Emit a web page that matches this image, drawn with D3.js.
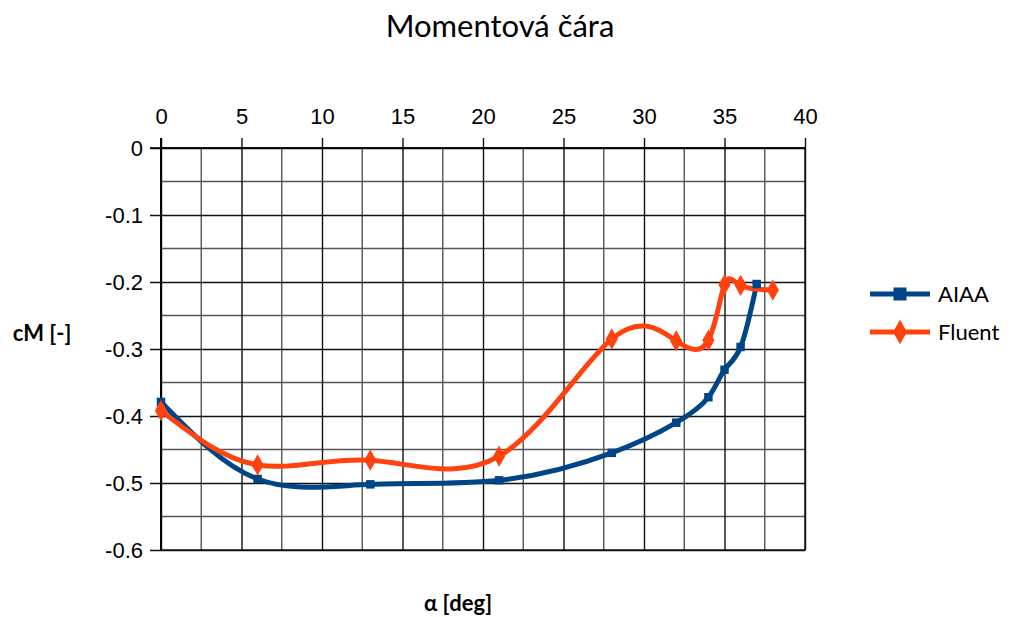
<!DOCTYPE html>
<html>
<head>
<meta charset="utf-8">
<script src="https://cdn.jsdelivr.net/npm/d3@7"></script>
<style>
  body { margin: 0; background: #fff; }
  .tick text { font-family: "Liberation Sans", Arial, sans-serif; font-size: 22px; fill: #000; }
  .title { font-family: Lato, "Open Sans", sans-serif; font-size: 31px; }
  .axis-label { font-family: Lato, "Open Sans", sans-serif; font-size: 22px; font-weight: bold; }
  .legend text { font-family: Lato, "Open Sans", sans-serif; font-size: 22px; }
</style>
</head>
<body>
<svg width="1010" height="617"></svg>
<script>
const svg = d3.select('svg');

const aiaaAlpha = [0, 6, 13, 21, 28, 32, 34, 35, 36, 37];
const aiaaCm = [-0.379, -0.494, -0.502, -0.496, -0.455, -0.410, -0.372, -0.331, -0.297, -0.203];

const fluentAlpha = [0, 6, 13, 21, 28, 32, 34, 35, 36, 38];
const fluentCm = [-0.392, -0.473, -0.466, -0.460, -0.285, -0.288, -0.287, -0.204, -0.205, -0.212];

const xTicks = [0, 5, 10, 15, 20, 25, 30, 35, 40];
const yTicks = [0, -0.1, -0.2, -0.3, -0.4, -0.5, -0.6];

const seriesNames = ['AIAA', 'Fluent'];
const colors = ['#004586', '#ff420e'];

const margin = {left: 161, top: 148, right: 205, bottom: 67};
const width = 1010, height = 617;
const innerWidth = width - margin.left - margin.right;
const innerHeight = height - margin.top - margin.bottom;

const xScale = d3.scaleLinear().domain([0, 40]).range([0, innerWidth]);
const yScale = d3.scaleLinear().domain([0, -0.6]).range([0, innerHeight]);

const g = svg.append('g').attr('transform', `translate(${margin.left}, ${margin.top})`);

// minor grid
g.append('g').selectAll('line')
  .data(d3.range(2.5, 40, 5))
  .join('line')
  .attr('x1', d => xScale(d)).attr('x2', d => xScale(d))
  .attr('y1', 0).attr('y2', innerHeight)
  .attr('stroke', '#555').attr('stroke-width', 1.4);
g.append('g').selectAll('line')
  .data(d3.range(-0.05, -0.6, -0.1))
  .join('line')
  .attr('y1', d => yScale(d)).attr('y2', d => yScale(d))
  .attr('x1', 0).attr('x2', innerWidth)
  .attr('stroke', '#555').attr('stroke-width', 1.4);

// major grid
const xAxis = d3.axisTop(xScale).tickValues(xTicks).tickSize(-innerHeight).tickPadding(24);
const xAxisG = g.append('g').call(xAxis);
xAxisG.select('.domain').remove();
xAxisG.selectAll('line').attr('stroke', '#111').attr('stroke-width', 1.4)
  .attr('y1', -10);

const yAxis = d3.axisLeft(yScale).tickValues(yTicks).tickSize(-innerWidth).tickPadding(18)
  .tickFormat(d => d === 0 ? '0' : d3.format('.1f')(d).replace('−', '-'));
const yAxisG = g.append('g').call(yAxis);
yAxisG.select('.domain').remove();
yAxisG.selectAll('line').attr('stroke', '#111').attr('stroke-width', 1.4)
  .attr('x1', -11);

// frame
g.append('rect').attr('width', innerWidth).attr('height', innerHeight)
  .attr('fill', 'none').attr('stroke', '#111').attr('stroke-width', 1.4);
g.append('line').attr('x1', 0).attr('x2', 0).attr('y1', -10).attr('y2', innerHeight)
  .attr('stroke', '#000').attr('stroke-width', 2);
g.append('line').attr('x1', -11).attr('x2', innerWidth).attr('y1', 0).attr('y2', 0)
  .attr('stroke', '#000').attr('stroke-width', 1.5);

const line = d3.line().x(d => xScale(d[0])).y(d => yScale(d[1])).curve(d3.curveNatural);

const series = [d3.zip(aiaaAlpha, aiaaCm), d3.zip(fluentAlpha, fluentCm)];

series.forEach((data, i) => {
  g.append('path')
    .attr('d', line(data))
    .attr('fill', 'none')
    .attr('stroke', colors[i])
    .attr('stroke-width', 5)
    .attr('stroke-linejoin', 'round');
});

const square = d3.symbol().type(d3.symbolSquare).size(72);
const diamond = d3.symbol().type(d3.symbolDiamond).size(130);

g.selectAll('.m-aiaa').data(series[0]).join('path')
  .attr('transform', d => `translate(${xScale(d[0])}, ${yScale(d[1])})`)
  .attr('d', square()).attr('fill', colors[0]);
g.selectAll('.m-fluent').data(series[1]).join('path')
  .attr('transform', d => `translate(${xScale(d[0])}, ${yScale(d[1])})`)
  .attr('d', diamond()).attr('fill', colors[1]);

// title and labels
svg.append('text').attr('class', 'title')
  .attr('x', 500).attr('y', 37).attr('text-anchor', 'middle')
  .text('Momentová čára');
svg.append('text').attr('class', 'axis-label')
  .attr('x', 42).attr('y', 341).attr('text-anchor', 'middle')
  .text('cM [-]');
svg.append('text').attr('class', 'axis-label')
  .attr('x', 458).attr('y', 611).attr('text-anchor', 'middle')
  .text('α [deg]');

// legend
const legend = svg.append('g').attr('class', 'legend').attr('transform', 'translate(870, 294)');
seriesNames.forEach((name, i) => {
  const lg = legend.append('g').attr('transform', `translate(0, ${i * 38})`);
  lg.append('line').attr('x1', 0).attr('x2', 60).attr('y1', 0).attr('y2', 0)
    .attr('stroke', colors[i]).attr('stroke-width', 5);
  lg.append('path').attr('transform', 'translate(30, 0)')
    .attr('d', i === 0 ? d3.symbol().type(d3.symbolSquare).size(170)() : d3.symbol().type(d3.symbolDiamond).size(170)())
    .attr('fill', colors[i]);
  lg.append('text').attr('x', 68).attr('y', 8).text(name);
});
</script>
</body>
</html>
